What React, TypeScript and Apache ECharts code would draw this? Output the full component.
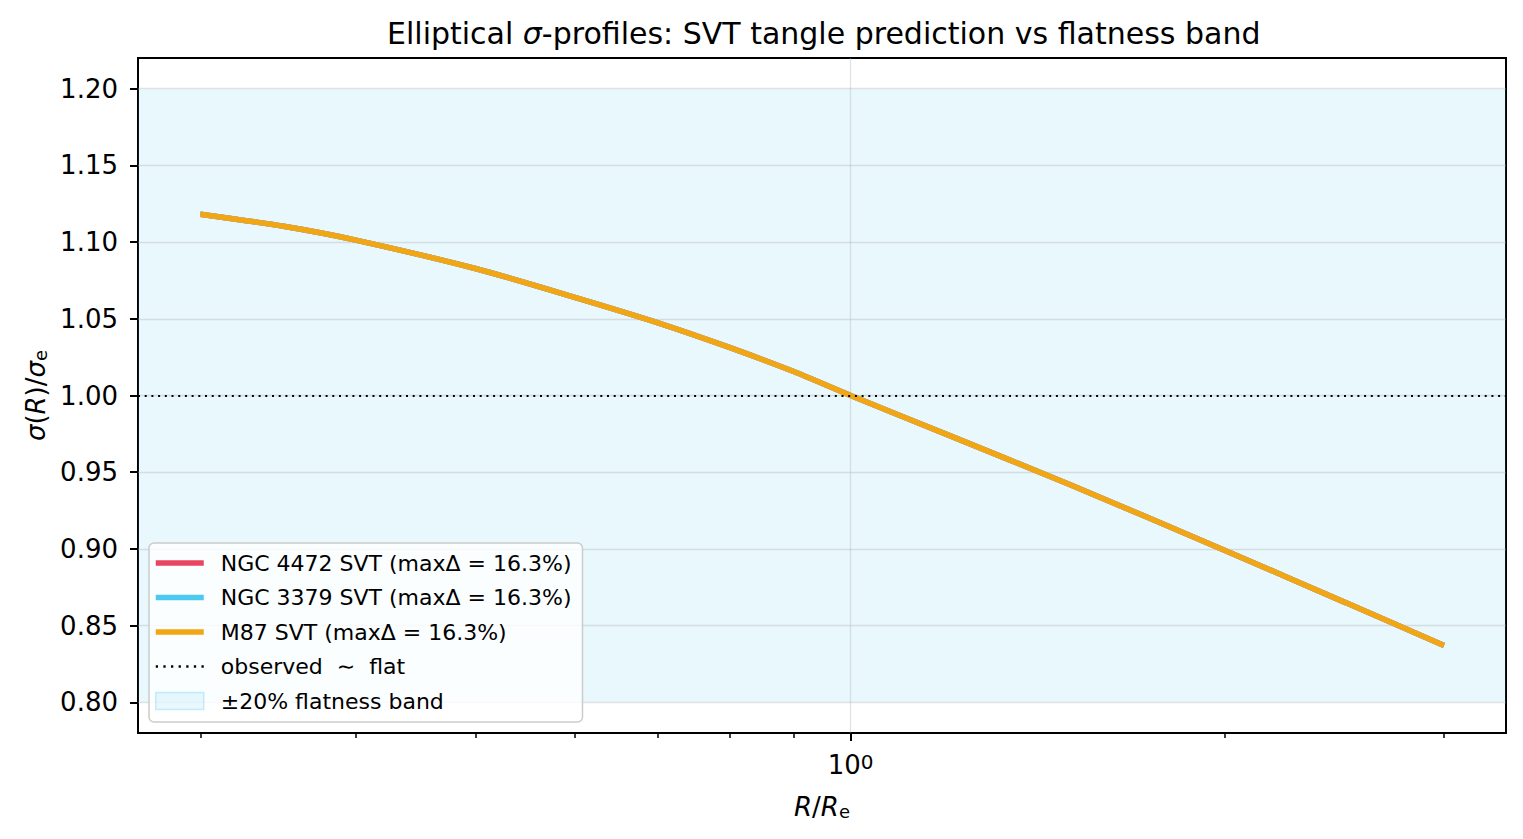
import React, { useEffect, useRef } from "react";
import * as echarts from "echarts";

// Sampled velocity-dispersion profile sigma(R)/sigma_e against R/R_e
const R_VALUES = [0.3, 0.35, 0.4, 0.5, 0.6, 0.7, 0.8, 0.9, 1.0, 1.2, 1.5, 2.0, 2.5, 3.0];
const SIGMA_RATIO = [
  1.1182, 1.1103, 1.1013, 1.0826, 1.064, 1.0474, 1.0312, 1.0156, 1.0, 0.974, 0.942, 0.899, 0.865,
  0.837,
];

const SERIES_NAMES = [
  "NGC 4472 SVT (maxΔ = 16.3%)",
  "NGC 3379 SVT (maxΔ = 16.3%)",
  "M87 SVT (maxΔ = 16.3%)",
];
const SERIES_COLORS = ["#e84560", "#4cc9f0", "#f3a614"];

const FLAT_NAME = "observed  ∼  flat";
const FLAT_LEVEL = 1.0;
const BAND_NAME = "±20% flatness band";
const BAND_LIMITS = [0.8, 1.2];

const X_RANGE = [0.2673, 3.365];
const Y_RANGE = [0.78, 1.22];
const Y_TICKS = [0.8, 0.85, 0.9, 0.95, 1.0, 1.05, 1.1, 1.15, 1.2];
const X_MAJOR_TICKS = [1];
const X_MINOR_TICKS = [0.3, 0.4, 0.5, 0.6, 0.7, 0.8, 0.9, 2, 3];

const FONT = "DejaVu Sans";
const GRID_COLOR = "rgba(176,176,176,0.35)";
const BAND_FILL = "rgba(76,201,240,0.12)";

// Legend handles: a solid bar for the profiles, a row of dots for the flat reference
const SOLID_HANDLE = "path://M0,0H48V5.5H0Z";
const DOTTED_HANDLE =
  "path://M0,0h2v2h-2z M6.7,0h2v2h-2z M13.4,0h2v2h-2z M20.1,0h2v2h-2z M26.8,0h2v2h-2z M33.5,0h2v2h-2z M40.2,0h2v2h-2z";

function buildOption() {
  const profile = R_VALUES.map((r, i) => [r, SIGMA_RATIO[i]]);

  const profileSeries = SERIES_NAMES.map((name, i) => ({
    type: "line",
    name,
    data: profile,
    color: SERIES_COLORS[i],
    symbol: "none",
    smooth: 0.25,
    z: 3,
    lineStyle: { width: 5.5, color: SERIES_COLORS[i], cap: "butt" },
  }));

  return {
    animation: false,
    backgroundColor: "#ffffff",
    textStyle: { fontFamily: FONT },
    title: {
      text: "Elliptical {i|σ}-profiles: SVT tangle prediction vs flatness band",
      left: 382,
      top: 13,
      textStyle: {
        fontFamily: FONT,
        fontSize: 30,
        fontWeight: "normal",
        color: "#000",
        rich: {
          i: { fontFamily: FONT, fontSize: 30, fontStyle: "italic", color: "#000" },
        },
      },
    },
    grid: {
      left: 138,
      right: 17,
      top: 58,
      bottom: 106,
      show: true,
      borderColor: "#000",
      borderWidth: 2,
      backgroundColor: "transparent",
      containLabel: false,
      outerBoundsMode: "none",
    },
    legend: {
      orient: "vertical",
      left: 149,
      top: 543,
      padding: [8, 11, 9, 6],
      itemWidth: 48,
      itemHeight: 17,
      itemGap: 10.5,
      symbolKeepAspect: true,
      selectedMode: false,
      backgroundColor: "rgba(255,255,255,0.8)",
      borderColor: "#cccccc",
      borderWidth: 1.5,
      borderRadius: 5,
      textStyle: {
        fontFamily: FONT,
        fontSize: 22,
        color: "#000",
        lineHeight: 24,
        padding: [0, 0, 0, 12],
      },
      data: [
        ...SERIES_NAMES.map((name, i) => ({
          name,
          icon: SOLID_HANDLE,
          itemStyle: { color: SERIES_COLORS[i] },
        })),
        { name: FLAT_NAME, icon: DOTTED_HANDLE, itemStyle: { color: "#000" } },
        {
          name: BAND_NAME,
          icon: "rect",
          itemStyle: { color: BAND_FILL, borderColor: "rgba(76,201,240,0.3)", borderWidth: 1.5 },
        },
      ],
    },
    xAxis: [
      {
        type: "log",
        logBase: 10,
        min: X_RANGE[0],
        max: X_RANGE[1],
        position: "bottom",
        axisLine: { show: false },
        splitLine: { show: false },
        minorTick: { show: false },
        axisTick: {
          show: true,
          customValues: X_MAJOR_TICKS,
          length: 8,
          lineStyle: { color: "#000", width: 2 },
        },
        axisLabel: {
          show: true,
          customValues: X_MAJOR_TICKS,
          margin: 19,
          color: "#000",
          formatter: (v: number) => `{b|10}{s|${Math.round(Math.log10(v))}}`,
          rich: {
            b: {
              fontFamily: FONT,
              fontSize: 26,
              lineHeight: 26,
              color: "#000",
              verticalAlign: "bottom",
              padding: [10, 0, 0, 0],
            },
            s: { fontFamily: FONT, fontSize: 20, lineHeight: 20, color: "#000", verticalAlign: "top" },
          },
        },
        name: "{i|R}/{i|R}{sub|e}",
        nameLocation: "middle",
        nameGap: 61,
        nameTextStyle: {
          fontFamily: FONT,
          fontSize: 26,
          color: "#000",
          rich: {
            i: {
              fontFamily: FONT,
              fontSize: 26,
              lineHeight: 26,
              fontStyle: "italic",
              color: "#000",
              verticalAlign: "top",
            },
            sub: {
              fontFamily: FONT,
              fontSize: 18,
              lineHeight: 18,
              color: "#000",
              verticalAlign: "bottom",
              padding: [12, 0, 0, 0],
            },
          },
        },
      },
      {
        type: "log",
        logBase: 10,
        min: X_RANGE[0],
        max: X_RANGE[1],
        position: "bottom",
        axisLine: { show: false },
        splitLine: { show: false },
        axisLabel: { show: false },
        axisTick: {
          show: true,
          customValues: X_MINOR_TICKS,
          length: 5,
          lineStyle: { color: "#000", width: 1.5 },
        },
      },
    ],
    yAxis: {
      type: "value",
      min: Y_RANGE[0],
      max: Y_RANGE[1],
      axisLine: { show: false },
      splitLine: { show: false },
      axisTick: {
        show: true,
        customValues: Y_TICKS,
        length: 8,
        lineStyle: { color: "#000", width: 2 },
      },
      axisLabel: {
        show: true,
        customValues: Y_TICKS,
        margin: 20,
        fontFamily: FONT,
        fontSize: 26,
        color: "#000",
        formatter: (v: number) => v.toFixed(2),
      },
      name: "{i|σ}({i|R})/{i|σ}{sub|e}",
      nameLocation: "middle",
      nameGap: 88,
      nameTextStyle: {
        fontFamily: FONT,
        fontSize: 26,
        color: "#000",
        rich: {
          i: {
            fontFamily: FONT,
            fontSize: 26,
            lineHeight: 26,
            fontStyle: "italic",
            color: "#000",
            verticalAlign: "top",
          },
          sub: {
            fontFamily: FONT,
            fontSize: 18,
            lineHeight: 18,
            color: "#000",
            verticalAlign: "bottom",
            padding: [12, 0, 0, 0],
          },
        },
      },
    },
    series: [
      {
        type: "line",
        name: BAND_NAME,
        data: [],
        symbol: "none",
        color: BAND_FILL,
        itemStyle: { color: BAND_FILL },
        lineStyle: { width: 0 },
        markArea: {
          silent: true,
          z: 1,
          itemStyle: { color: BAND_FILL },
          data: [[{ yAxis: BAND_LIMITS[0] }, { yAxis: BAND_LIMITS[1] }]],
        },
        markLine: {
          silent: true,
          z: 2,
          symbol: ["none", "none"],
          label: { show: false },
          lineStyle: { color: GRID_COLOR, width: 1.3, type: "solid" },
          data: [
            ...Y_TICKS.map((v) => ({ yAxis: v })),
            ...X_MAJOR_TICKS.map((v) => ({ xAxis: v })),
          ],
        },
      },
      ...profileSeries,
      {
        type: "line",
        name: FLAT_NAME,
        data: [],
        symbol: "none",
        color: "#000",
        lineStyle: { color: "#000", width: 2, type: [2, 4.7] },
        markLine: {
          silent: true,
          z: 5,
          symbol: ["none", "none"],
          label: { show: false },
          lineStyle: { color: "#000", width: 2, type: [2, 4.7] },
          data: [{ yAxis: FLAT_LEVEL }],
        },
      },
    ],
  };
}

export default function App() {
  const ref = useRef<HTMLDivElement>(null);

  useEffect(() => {
    if (!ref.current) return;
    const chart = echarts.init(ref.current, null, { renderer: "svg" });
    chart.setOption(buildOption() as any);
    return () => chart.dispose();
  }, []);

  return (
    <div
      ref={ref}
      style={{ position: "absolute", left: 0, top: 0, width: 1523, height: 839 }}
    />
  );
}
